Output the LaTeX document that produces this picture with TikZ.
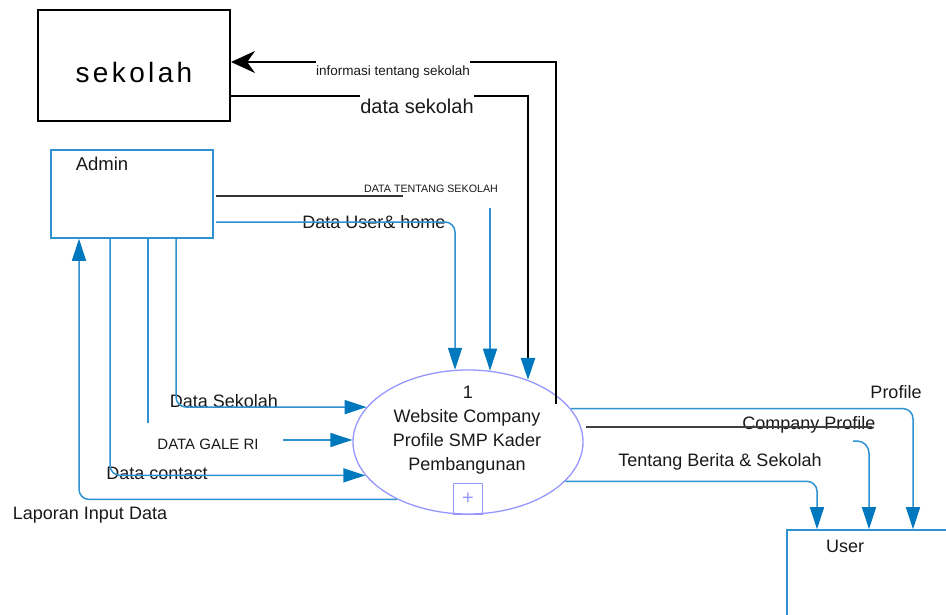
\documentclass[tikz,border=0pt]{standalone}
\usepackage{fontspec}
\setmainfont{Liberation Sans}
\usetikzlibrary{arrows.meta,shapes.geometric}
\definecolor{lblue}{RGB}{45,145,210}
\definecolor{ablue}{RGB}{0,120,190}
\definecolor{lav}{RGB}{150,150,255}
\definecolor{txt}{RGB}{25,25,25}
\newcommand{\fsz}[1]{\fontsize{#1}{#1}\selectfont}
\begin{document}
\begin{tikzpicture}[x=1pt,y=-1pt,
  lbl/.style={inner sep=0pt, text=txt, font=\fsz{18}},
  btip/.style={-{Triangle[length=22pt,width=14pt,color=ablue]}},
  bflow/.style={draw=lblue, line width=1.5pt, btip, rounded corners=10pt},
  kline/.style={draw=black, line width=2pt}]
\useasboundingbox (0,0) rectangle (946,614);

% external entities
\node[draw=black, line width=2pt, minimum width=192pt, minimum height=111pt, inner sep=0pt] (sekolah) at (134,65.5) {};
\node[inner sep=0pt, font=\fsz{28}\addfontfeature{LetterSpace=12}] (sekolahtxt) at (134,72) {sekolah};
\node[draw=lblue, line width=1.6pt, minimum width=162pt, minimum height=88pt, inner sep=0pt] (admin) at (132,194) {};
\node[lbl, font=\fsz{18.5}] (admintxt) at (102,164) {Admin};
\begin{scope}
\clip (0,0) rectangle (946,614);
\node[draw=lblue, line width=1.6pt, minimum width=220pt, minimum height=170pt, inner sep=0pt] (user) at (897,615) {};
\end{scope}
\node[lbl] (usertxt) at (845,546) {User};

% process
\node[ellipse, draw=lav, line width=1.3pt, minimum width=230pt, minimum height=144pt, inner sep=0pt] (ell) at (468,442) {};
\node[lbl] (p1) at (468,392) {1};
\node[lbl] (p2) at (467,418) {Website Company};
\node[lbl] (p3) at (467,440) {Profile SMP Kader};
\node[lbl] (p4) at (467,466) {Pembangunan};
\node[draw=lav, line width=1.2pt, minimum width=29pt, minimum height=31pt, inner sep=0pt, text=lav, font=\fsz{20}] (plus) at (468,499) {+};

% labels
\node[lbl, font=\fsz{13.5}] (infolbl) at (393,72) {informasi tentang sekolah};
\node[lbl, font=\fsz{20}] (dslbl) at (417,106) {data sekolah};
\node[lbl, font=\fsz{10.7}] (dtlbl) at (431,189) {DATA TENTANG SEKOLAH};
\node[lbl] (dulbl) at (374,222) {Data User\& home};
\node[lbl] (dsklbl) at (224,401) {Data Sekolah};
\node[lbl, font=\fsz{15}] (gallbl) at (208,444) {DATA GALE RI};
\node[lbl] (dclbl) at (157,473) {Data contact};
\node[lbl] (laplbl) at (90,515) {Laporan Input Data};
\node[lbl] (proflbl) at (896,392) {Profile};
\node[lbl] (cplbl) at (809,425) {Company Profile};
\node[lbl] (tblbl) at (720,462) {Tentang Berita \& Sekolah};

% helper coordinates
\coordinate (vtop) at (556,62);
\coordinate (vbot) at (556,404);
\coordinate (dcorner) at (528,96);
\coordinate (dt0) at (216,196);
\coordinate (dt1) at (403,196);
\coordinate (dtv) at (490,208);
\coordinate (du0) at (216,222);
\coordinate (xU) at (455,0);
\coordinate (xA) at (79,0);
\coordinate (xB) at (110,0);
\coordinate (xC) at (148,0);
\coordinate (xD) at (176,0);
\coordinate (gEnd) at (148,423);
\coordinate (xG) at (283,0);
\coordinate (xP) at (913,0);
\coordinate (xT) at (817,0);
\coordinate (xK) at (869,0);
\coordinate (cp0) at (586,427);
\coordinate (cp1) at (872,427);
\coordinate (cq0) at (853,441);

% sekolah flows
\draw[kline] (vbot) -- (vtop) -- (infolbl.east |- vtop);
\draw[kline, -{Stealth[length=24pt,width=22pt]}] (infolbl.west |- vtop) -- (sekolah.east |- vtop);
\draw[kline] (sekolah.east |- dcorner) -- (dslbl.west |- dcorner);
\draw[draw=black, line width=2.5pt, btip] (dslbl.east |- dcorner) -- (dcorner) -- (dcorner |- ell.46);

% admin flows
\draw[draw=black!80, line width=1.2pt] (dt0) -- (dt1);
\draw[draw=lblue, line width=1.5pt, btip] (dtv) -- (dtv |- ell.73);
\draw[bflow] (du0) -- (du0 -| xU) -- (xU |- ell.100);
\draw[bflow] (admin.south -| xD) -- (ell.161 -| xD) -- (ell.161);
\draw[draw=lblue, line width=1.5pt] (admin.south -| xC) -- (gEnd);
\draw[draw=lblue, line width=1.5pt, btip] (ell.179 -| xG) -- (ell.179);
\draw[bflow] (admin.south -| xB) -- (ell.198.5 -| xB) -- (ell.198.5);
\draw[bflow] (ell.219) -- (ell.219 -| xA) -- (admin.south -| xA);

% user flows
\draw[bflow] (ell.18) -- (ell.18 -| xP) -- (user.north -| xP);
\draw[draw=black!75, line width=1.5pt] (cp0) -- (cp1);
\draw[bflow, rounded corners=12pt] (cq0) -- (cq0 -| xK) -- (user.north -| xK);
\draw[bflow] (ell.-22.7) -- (ell.-22.7 -| xT) -- (user.north -| xT);
\end{tikzpicture}
\end{document}
